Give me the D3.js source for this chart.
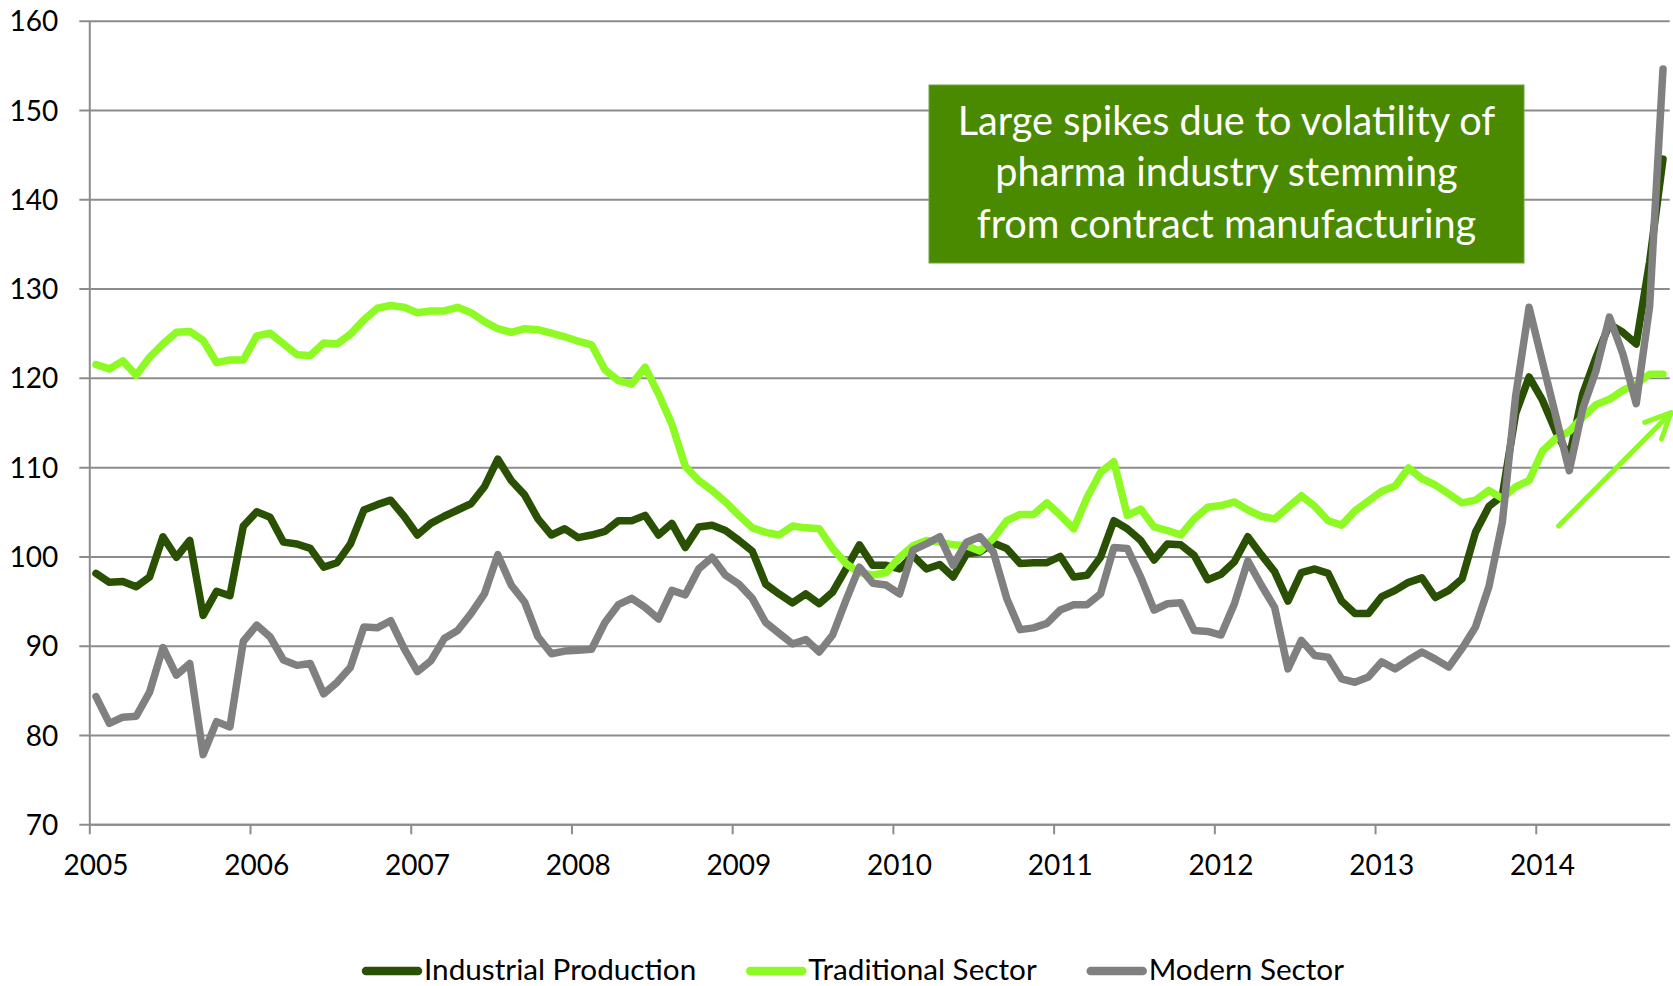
<!DOCTYPE html>
<html>
<head>
<meta charset="utf-8">
<title>Industrial Production by Sector</title>
<script src="https://d3js.org/d3.v7.min.js"></script>
<style>
  body { margin: 0; background: #fff; }
  svg { display: block; font-family: Lato, "Open Sans", sans-serif; }
</style>
</head>
<body>
<svg></svg>
<script>
// monthly index values, Jan 2005 .. Oct 2014
const years = ['2005', '2006', '2007', '2008', '2009', '2010', '2011', '2012', '2013', '2014'];
const yTicks = [70, 80, 90, 100, 110, 120, 130, 140, 150, 160];

const industrial = [
  98.1, 97.1, 97.2, 96.6, 97.7, 102.2, 99.9, 101.8, 93.4, 96.1, 95.6, 103.4,
  105.0, 104.4, 101.6, 101.4, 100.9, 98.8, 99.3, 101.4, 105.2, 105.8, 106.3, 104.5,
  102.4, 103.7, 104.5, 105.2, 105.9, 107.8, 110.9, 108.5, 106.9, 104.2, 102.4, 103.1,
  102.1, 102.4, 102.8, 104.0, 104.0, 104.6, 102.4, 103.7, 101.0, 103.3, 103.5, 102.9,
  101.8, 100.6, 96.9, 95.8, 94.8, 95.8, 94.7, 96.0, 98.6, 101.3, 99.0, 99.0,
  98.6, 100.1, 98.6, 99.1, 97.7, 100.3, 100.5, 101.5, 100.9, 99.2, 99.3, 99.3,
  100.0, 97.7, 97.9, 99.9, 104.0, 103.1, 101.8, 99.6, 101.4, 101.3, 100.1, 97.4,
  98.0, 99.4, 102.2, 100.2, 98.3, 95.0, 98.2, 98.6, 98.1, 95.0, 93.6, 93.6,
  95.5, 96.2, 97.1, 97.6, 95.4, 96.2, 97.5, 102.7, 105.6, 106.8, 116.0, 120.1,
  117.5, 114.0, 111.1, 118.2, 122.3, 126.0, 125.1, 123.8, 133.0, 144.5
];

const traditional = [
  121.5, 121.0, 121.9, 120.3, 122.3, 123.8, 125.1, 125.2, 124.2, 121.7, 122.0, 122.0,
  124.7, 125.0, 123.8, 122.6, 122.5, 123.9, 123.8, 124.9, 126.5, 127.8, 128.1, 127.9,
  127.3, 127.5, 127.5, 127.9, 127.3, 126.3, 125.5, 125.1, 125.5, 125.4, 125.0, 124.6,
  124.1, 123.7, 120.9, 119.7, 119.3, 121.2, 118.2, 114.8, 110.1, 108.5, 107.4, 106.1,
  104.6, 103.2, 102.7, 102.4, 103.4, 103.2, 103.1, 100.9, 99.2, 98.2, 97.9, 98.2,
  99.9, 101.2, 101.8, 101.6, 101.3, 101.2, 100.6, 102.0, 104.0, 104.7, 104.7, 106.0,
  104.6, 103.1, 106.6, 109.4, 110.6, 104.6, 105.3, 103.3, 102.9, 102.4, 104.2, 105.5,
  105.7, 106.1, 105.2, 104.5, 104.2, 105.5, 106.8, 105.6, 104.0, 103.5, 105.1, 106.2,
  107.3, 107.9, 109.9, 108.7, 108.0, 107.0, 106.0, 106.3, 107.4, 106.5, 107.8, 108.5,
  111.8, 113.2, 114.0, 115.6, 117.0, 117.6, 118.6, 119.3, 120.4, 120.4
];

const modern = [
  84.3, 81.3, 82.0, 82.1, 84.8, 89.8, 86.7, 88.0, 77.8, 81.5, 80.9, 90.5,
  92.3, 91.0, 88.4, 87.8, 88.0, 84.6, 85.9, 87.6, 92.1, 92.0, 92.8, 89.7,
  87.1, 88.3, 90.8, 91.7, 93.6, 95.8, 100.2, 96.8, 94.9, 91.0, 89.1, 89.4,
  89.5, 89.6, 92.6, 94.6, 95.3, 94.3, 93.0, 96.2, 95.7, 98.6, 99.9, 97.9,
  96.9, 95.3, 92.6, 91.4, 90.2, 90.7, 89.3, 91.2, 95.1, 98.8, 97.0, 96.8,
  95.8, 100.7, 101.4, 102.2, 99.0, 101.6, 102.2, 100.5, 95.3, 91.8, 92.0, 92.5,
  94.0, 94.6, 94.6, 95.8, 101.0, 100.9, 97.7, 94.0, 94.7, 94.8, 91.7, 91.6,
  91.2, 94.7, 99.5, 96.8, 94.3, 87.4, 90.6, 88.9, 88.7, 86.3, 85.9, 86.5,
  88.2, 87.4, 88.4, 89.3, 88.5, 87.6, 89.7, 92.1, 96.6, 103.8, 118.0, 127.9,
  121.8, 115.7, 109.6, 116.5, 120.8, 126.8, 122.7, 117.1, 128.0, 154.6
];

const seriesNames = ['Industrial Production', 'Traditional Sector', 'Modern Sector'];
const seriesColors = ['#2A5004', '#8EFA24', '#808080'];
const noteLines = ['Large spikes due to volatility of', 'pharma industry stemming', 'from contract manufacturing'];
// trend arrow, in [month, index] units
const arrowFrom = [109.7, 103.4];
const arrowTo = [118.1, 116.1];

const width = 1673;
const height = 986;
const plotLeft = 89.3;
const plotRight = 1669.7;
const plotTop = 20.7;
const plotBottom = 824.3;
const gridColor = '#8C8C8C';

const svg = d3.select('svg').attr('width', width).attr('height', height);

const x = d3.scaleLinear().domain([0, industrial.length]).range([plotLeft, plotRight]);
const y = d3.scaleLinear().domain([70, 160]).range([plotBottom, plotTop]);

// horizontal grid + y axis
const yAxis = svg.append('g')
  .attr('transform', 'translate(' + plotLeft + ',0)')
  .call(d3.axisLeft(y).tickValues(yTicks).tickSizeOuter(0).tickPadding(25));
yAxis.select('.domain').attr('stroke', gridColor).attr('stroke-width', 2);
yAxis.selectAll('.tick line')
  .attr('x1', -10).attr('x2', plotRight - plotLeft)
  .attr('stroke', gridColor).attr('stroke-width', 2);
yAxis.selectAll('.tick text')
  .attr('font-size', 28).attr('font-family', 'Lato').attr('fill', '#000')
  .attr('dy', '0.36em');

// x axis ticks at each January
const xAxis = svg.append('g')
  .attr('transform', 'translate(0,' + plotBottom + ')')
  .call(d3.axisBottom(x).tickValues(d3.range(0, industrial.length, 12)).tickSize(10).tickSizeOuter(0).tickFormat(''));
xAxis.select('.domain').attr('stroke', gridColor).attr('stroke-width', 2);
xAxis.selectAll('.tick line').attr('stroke', gridColor).attr('stroke-width', 2);

svg.append('g').selectAll('text').data(years).enter().append('text')
  .text(d => d)
  .attr('x', (d, i) => x(i * 12 + 0.5))
  .attr('y', 875)
  .attr('text-anchor', 'middle')
  .attr('font-size', 28)
  .attr('fill', '#000');

// series lines
const line = d3.line()
  .x((d, i) => x(i + 0.5))
  .y(d => y(d));

svg.append('g').selectAll('path').data([industrial, traditional, modern]).enter().append('path')
  .attr('d', d => line(d))
  .attr('fill', 'none')
  .attr('stroke', (d, i) => seriesColors[i])
  .attr('stroke-width', 7.5)
  .attr('stroke-linejoin', 'round')
  .attr('stroke-linecap', 'round');

// trend arrow
const ax0 = x(arrowFrom[0]), ay0 = y(arrowFrom[1]);
const ax1 = x(arrowTo[0]), ay1 = y(arrowTo[1]);
const ang = Math.atan2(ay0 - ay1, ax0 - ax1);
const wing = 28, spread = 25 * Math.PI / 180;
const arrow = svg.append('g')
  .attr('stroke', seriesColors[1]).attr('stroke-width', 5)
  .attr('fill', 'none').attr('stroke-linecap', 'round').attr('stroke-linejoin', 'round');
arrow.append('line').attr('x1', ax0).attr('y1', ay0).attr('x2', ax1).attr('y2', ay1);
arrow.append('path').attr('d',
  'M' + (ax1 + wing * Math.cos(ang - spread)) + ',' + (ay1 + wing * Math.sin(ang - spread)) +
  'L' + ax1 + ',' + ay1 +
  'L' + (ax1 + wing * Math.cos(ang + spread)) + ',' + (ay1 + wing * Math.sin(ang + spread)));

// annotation box
const note = svg.append('g');
note.append('rect')
  .attr('x', 929).attr('y', 85).attr('width', 595).attr('height', 178)
  .attr('fill', '#4A8A01').attr('stroke', '#6FA43C').attr('stroke-width', 1);
note.selectAll('text').data(noteLines).enter().append('text')
  .text(d => d)
  .attr('x', 1226.5)
  .attr('y', (d, i) => 134.5 + i * 51.5)
  .attr('text-anchor', 'middle')
  .attr('font-size', 39.7)
  .attr('fill', '#fff');

// legend
const legend = svg.append('g').attr('transform', 'translate(362,971)');
let lx = 0;
seriesNames.forEach((name, i) => {
  const item = legend.append('g').attr('transform', 'translate(' + lx + ',0)');
  item.append('line')
    .attr('x1', 4).attr('x2', 56).attr('y1', 0).attr('y2', 0)
    .attr('stroke', seriesColors[i]).attr('stroke-width', 8.5).attr('stroke-linecap', 'round');
  const t = item.append('text')
    .text(name)
    .attr('x', 62).attr('y', 8.5)
    .attr('font-size', 29.7)
    .attr('fill', '#000');
  lx += 62 + t.node().getComputedTextLength() + 50;
});
</script>
</body>
</html>
